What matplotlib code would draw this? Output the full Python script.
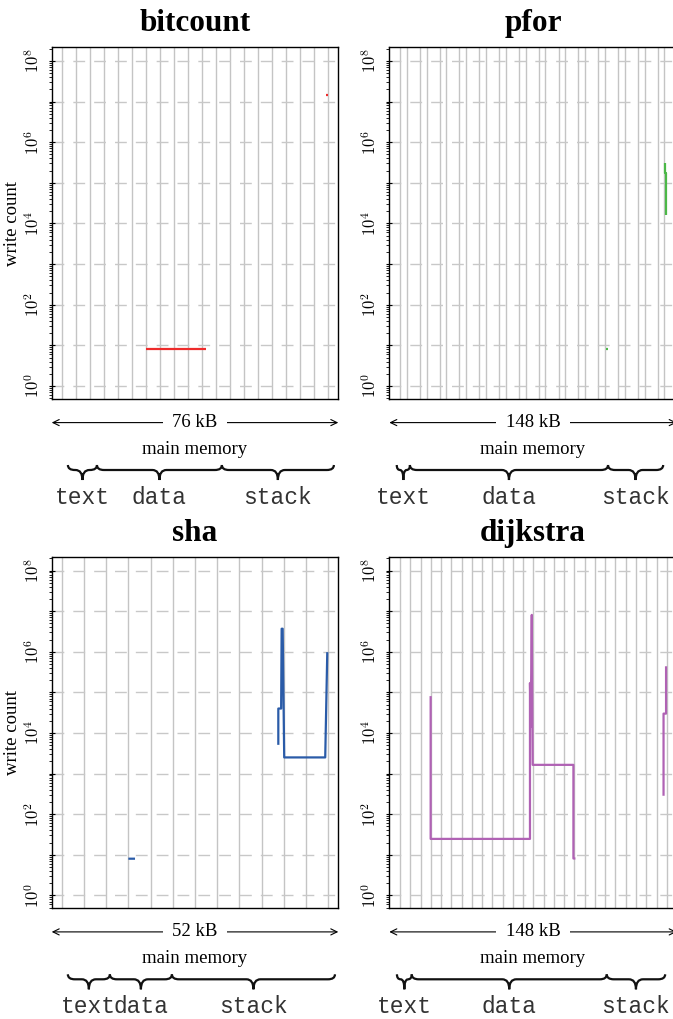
import numpy as np
import matplotlib
matplotlib.use('Agg')
import matplotlib.pyplot as plt
import matplotlib.transforms as mtransforms
from matplotlib.path import Path
from matplotlib.patches import PathPatch
from matplotlib.ticker import FixedLocator, FuncFormatter, LogLocator, NullFormatter

plt.rcParams['font.family'] = ['Liberation Serif', 'DejaVu Serif']
plt.rcParams['mathtext.fontset'] = 'cm'

# =============================================================================
# data: x = address in kB, y = write count
# =============================================================================
bitcount_x = [24.0, 41.0, np.nan, 75.4, 76.0]
bitcount_y = [8, 8, np.nan, 1.45e7, 1.45e7]

pfor_x = [114.2, 115.4, np.nan, 147.1, 147.1, 147.6, 147.6]
pfor_y = [8, 8, np.nan, 3.0e5, 1.7e5, 1.7e5, 1.6e4]

sha_x = [13.0, 14.3, np.nan, 42.25, 42.25, 42.8, 42.9, 43.1, 43.4, 51.4, 51.8]
sha_y = [8, 8, np.nan, 5.1e3, 4.0e4, 4.0e4, 3.7e6, 3.7e6, 2.5e3, 2.5e3, 9.8e5]

dijkstra_x = [17.0, 17.0, 72.1, 72.1, 72.5, 73.1, 73.6, 96.2, 96.2, 97.3,
              np.nan, 146.2, 146.2, 147.6, 147.6]
dijkstra_y = [8.1e4, 24.6, 24.6, 1.7e5, 1.4e4, 8.1e6, 1.64e3, 1.64e3, 8.1, 8.1,
              np.nan, 284, 3.0e4, 3.0e4, 4.4e5]

# memory size (kB) and text / data / stack boundaries (kB)
mem_size = [76, 148, 52, 148]
bitcount_seg = [1.6, 9.9, 45.6, 77.6]
pfor_seg = [-1.8, 5.5, 115.4, 146.0]
sha_seg = [1.2, 9.4, 21.5, 53.3]
dijkstra_seg = [-1.7, 6.5, 114.7, 147.1]
seg_names = ['text', 'data', 'stack']

# page grid positions (kB)
bitcount_grid = np.arange(0, 77, 4)
pfor_grid = np.sort(np.concatenate([np.arange(14) * 11.0, np.arange(14) * 11.0 + 3.7]))
sha_grid = np.linspace(0, 52, 13)
dijkstra_grid = np.linspace(0, 148, 27)

panels = [
    ('bitcount', bitcount_x, bitcount_y, '#ee2b2b', bitcount_seg, bitcount_grid, (-3.03, 78.86)),
    ('pfor', pfor_x, pfor_y, '#4cb848', pfor_seg, pfor_grid, (-5.94, 153.5)),
    ('sha', sha_x, sha_y, '#2a5ba8', sha_seg, sha_grid, (-1.95, 53.95)),
    ('dijkstra', dijkstra_x, dijkstra_y, '#b062b4', dijkstra_seg, dijkstra_grid, (-5.94, 153.5)),
]

W, H = 673, 1019
fig = plt.figure(figsize=(W / 100, H / 100), dpi=100)

# axes boxes in pixels: left, top, width, height
boxes = [(51.7, 47, 286.6, 352), (389.3, 47, 287.4, 352),
         (51.7, 556.7, 286.6, 351.6), (389.3, 556.7, 287.4, 351.6)]

decades = [10.0 ** k for k in range(9)]


def fmt(v, pos):
    e = int(round(np.log10(v)))
    return r'$10^{%d}$' % e if e % 2 == 0 else ''


def brace(ax, x0, x1):
    tr = ax.transData
    px0 = tr.transform((x0, 1))[0]
    px1 = tr.transform((x1, 1))[0]
    yb = ax.transAxes.transform((0, 0))[1]
    top, mid, tip = yb - 66, yb - 71, yb - 81
    xm = (px0 + px1) / 2
    r = min(7, (px1 - px0) / 4)
    verts = [(px0, top), (px0, mid), (px0 + r, mid),
             (xm - r, mid), (xm, mid), (xm, tip),
             (xm, mid), (xm + r, mid),
             (px1 - r, mid), (px1, mid), (px1, top)]
    codes = [Path.MOVETO, Path.CURVE3, Path.CURVE3,
             Path.LINETO, Path.CURVE3, Path.CURVE3,
             Path.CURVE3, Path.CURVE3,
             Path.LINETO, Path.CURVE3, Path.CURVE3]
    p = PathPatch(Path(verts, codes), fill=False, lw=1.6, color='#111111',
                  transform=mtransforms.IdentityTransform(), clip_on=False)
    fig.add_artist(p)


for i, (name, xs, ys, col, seg, grid, xl) in enumerate(panels):
    l, t, w, h = boxes[i]
    ax = fig.add_axes([l / W, (H - t - h) / H, w / W, h / H])
    ax.set_yscale('log')
    ax.set_ylim(0.48, 2.2e8)
    ax.set_xlim(*xl)

    for g in grid:
        ax.axvline(g, color='#c4c4c4', lw=1.0, zorder=0)
    for d in decades:
        ax.axhline(d, color='#c8c8c8', lw=1.0, dashes=(8.5, 6.5), dash_capstyle='butt', zorder=0.5)

    ax.plot(xs, ys, color=col, lw=1.6, zorder=3, solid_capstyle='butt')

    ax.set_xticks([])
    ax.yaxis.set_major_locator(FixedLocator(decades))
    ax.yaxis.set_major_formatter(FuncFormatter(fmt))
    ax.yaxis.set_minor_locator(LogLocator(base=10, subs=np.arange(2, 10)))
    ax.yaxis.set_minor_formatter(NullFormatter())
    ax.tick_params(axis='y', which='major', direction='inout', length=5, width=0.8,
                   labelsize=12, labelrotation=90, pad=4)
    ax.tick_params(axis='y', which='minor', direction='out', length=2.5, width=0.6)
    for lab in ax.get_yticklabels():
        lab.set_va('center')
    for s in ax.spines.values():
        s.set_linewidth(1.0)

    ax.set_title(name, fontsize=22.5, fontweight='bold', pad=11.5)
    if i % 2 == 0:
        ax.set_ylabel('write count', fontsize=13.5)
        ax.yaxis.set_label_coords(-0.108, 0.5)

    # memory size arrow
    tr_arrow = mtransforms.offset_copy(ax.transAxes, fig=fig, y=-23.6, units='dots')
    ax.annotate('', xy=(0, 0), xytext=(1, 0), xycoords=tr_arrow, textcoords=tr_arrow,
                arrowprops=dict(arrowstyle='<->, head_length=0.45, head_width=0.22',
                                lw=0.8, color='black', shrinkA=0, shrinkB=0),
                annotation_clip=False)
    ax.text(0.5, 0, '%d kB' % mem_size[i], transform=tr_arrow, ha='center', va='center',
            fontsize=13.5, bbox=dict(facecolor='white', edgecolor='none', pad=7))
    tr_mm = mtransforms.offset_copy(ax.transAxes, fig=fig, y=-50, units='dots')
    ax.text(0.5, 0, 'main memory', transform=tr_mm, ha='center', va='center', fontsize=13.5)

    # text / data / stack braces
    tr_lab = mtransforms.blended_transform_factory(
        ax.transData, mtransforms.offset_copy(ax.transAxes, fig=fig, y=-98, units='dots'))
    for k in range(3):
        brace(ax, seg[k], seg[k + 1])
        ax.text((seg[k] + seg[k + 1]) / 2, 0, seg_names[k], transform=tr_lab,
                ha='center', va='center', fontsize=16.5, family='Liberation Mono',
                color='#333333', clip_on=False)

fig.savefig('out.png', dpi=100)
